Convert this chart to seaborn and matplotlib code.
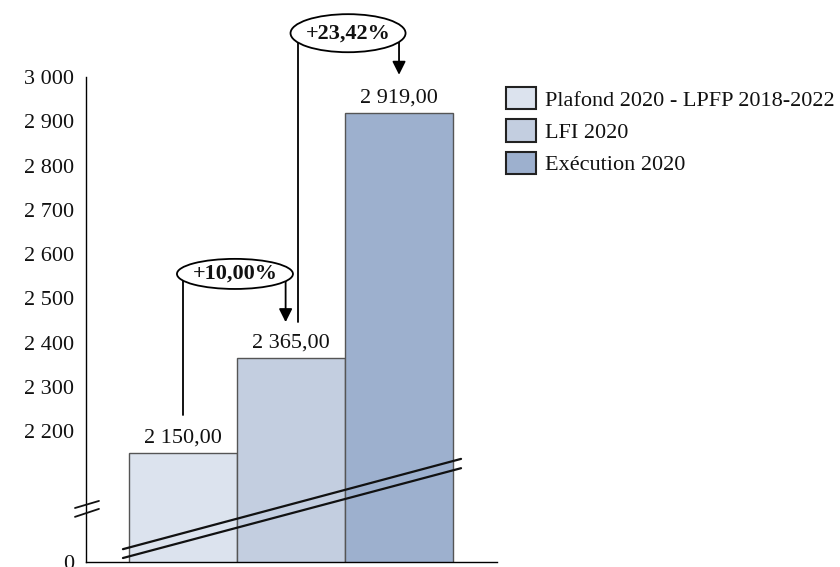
"""Plafond / LFI / exécution 2020 — barres avec axe interrompu."""

import matplotlib

matplotlib.use("Agg")
import matplotlib.pyplot as plt
import seaborn as sns
from matplotlib.patches import Ellipse, Patch

categories = ["Plafond 2020 - LPFP 2018-2022", "LFI 2020", "Exécution 2020"]
values = [2150.00, 2365.00, 2919.00]
colors = ["#DCE3EE", "#C3CEE0", "#9DB0CE"]
tick_values = [2200, 2300, 2400, 2500, 2600, 2700, 2800, 2900, 3000]
growth_labels = ["+10,00%", "+23,42%"]

AXIS_FLOOR = 1904  # valeur affichée comme "0" (axe interrompu)


def fr(v, dec=2):
    s = f"{v:,.{dec}f}"
    return s.replace(",", " ").replace(".", ",")


def main() -> None:
    sns.set_theme(style="white")
    plt.rcParams["font.family"] = ["Liberation Serif", "DejaVu Serif"]
    plt.rcParams["font.size"] = 16
    plt.rcParams["text.color"] = "#111111"

    fig = plt.figure(figsize=(8.4, 5.67), dpi=100)
    ax = fig.add_axes([86 / 840, 1 - 562 / 567, (497 - 86) / 840, (562 - 77) / 567])

    sns.barplot(
        x=categories,
        y=values,
        hue=categories,
        palette=colors,
        saturation=1,
        width=1,
        edgecolor="#555555",
        linewidth=1,
        legend=False,
        ax=ax,
    )
    ax.set_xlim(-0.898, 2.907)
    ax.set_ylim(AXIS_FLOOR, 3000)

    ax.set_yticks([AXIS_FLOOR] + tick_values)
    ax.set_yticklabels(["0"] + [fr(t, 0) for t in tick_values])
    ax.set_xticks([])
    ax.tick_params(axis="y", length=4.5, width=1, color="black", pad=4,
                   labelsize=16, labelcolor="#111111")
    for side in ("top", "right"):
        ax.spines[side].set_visible(False)
    for side in ("left", "bottom"):
        ax.spines[side].set_color("black")
        ax.spines[side].set_linewidth(1)
    ax.set_xlabel("")
    ax.set_ylabel("")

    # étiquettes de valeur
    for i, v in enumerate(values):
        ax.annotate(fr(v), (i, v), xytext=(0, 4), textcoords="offset points",
                    ha="center", va="bottom", fontsize=16)

    # coupure sur les barres
    for y0, y1 in [(1933, 2137), (1913, 2116)]:
        ax.plot([-0.556, 2.574], [y0, y1], color="#111111", lw=1.6, zorder=5)
    # coupure sur l'axe
    for y0, y1 in [(2026, 2042), (2006, 2024)]:
        ax.plot([-1.0, -0.778], [y0, y1], color="#111111", lw=1.3,
                clip_on=False, zorder=5)

    # évolutions
    arrows = [
        # (x ligne gauche, bas gauche, x flèche, pointe, centre ellipse, largeur, hauteur)
        (0.0, values[0] + 86, 0.95, values[1] + 81, (0.481, 2555), 1.074, 68),
        (1.065, values[1] + 81, 2.0, values[2] + 86, (1.528, 3099), 1.065, 86),
    ]
    for (xl, yl, xa, ya, (cx, cy), w, h), lab in zip(arrows, growth_labels):
        ax.plot([xl, xl], [yl, cy], color="black", lw=1.3, clip_on=False, zorder=6)
        ax.annotate("", xy=(xa, ya), xytext=(xa, cy),
                    arrowprops=dict(arrowstyle="-|>", color="black", lw=1.3,
                                    mutation_scale=20, shrinkA=0, shrinkB=0),
                    annotation_clip=False, zorder=6)
        ax.add_patch(Ellipse((cx, cy), w, h, facecolor="white", edgecolor="black",
                             lw=1.3, clip_on=False, zorder=7))
        ax.text(cx, cy, lab, ha="center", va="center", fontsize=16,
                fontweight="bold", zorder=8)

    handles = [Patch(facecolor=c, edgecolor="#222222", linewidth=1.5) for c in colors]
    fig.legend(
        handles,
        categories,
        loc="upper left",
        bbox_to_anchor=(506 / 840, 1 - 87 / 567),
        frameon=False,
        fontsize=16,
        borderpad=0,
        borderaxespad=0,
        handlelength=1.35,
        handleheight=1.15,
        handletextpad=0.4,
        labelspacing=0.4,
    )

    fig.savefig("out.png", dpi=100)


if __name__ == "__main__":
    main()
